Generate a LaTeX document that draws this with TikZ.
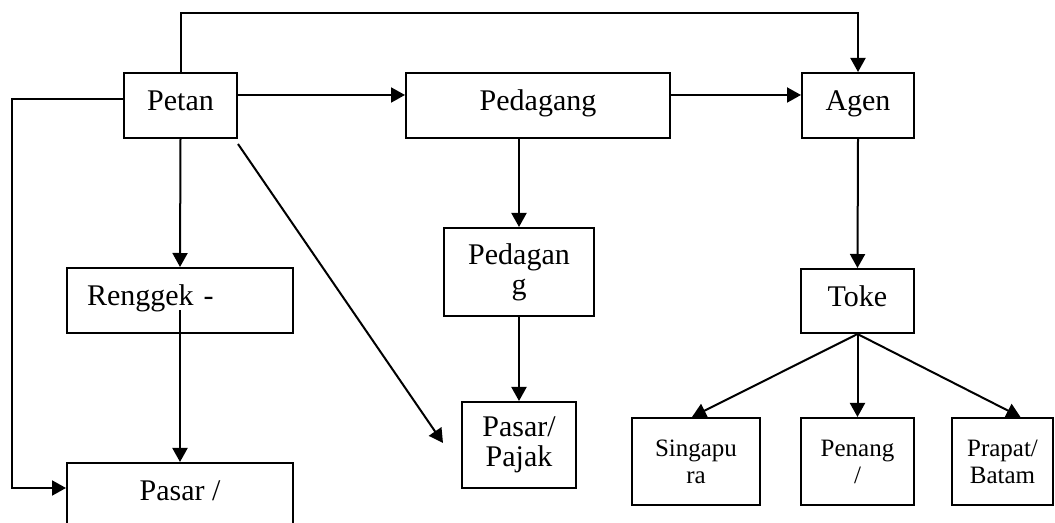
\documentclass[tikz,border=0pt]{standalone}
\usepackage{fontspec}
\setmainfont{Liberation Serif}
\usetikzlibrary{arrows.meta,calc,positioning}

\begin{document}
\begin{tikzpicture}[x=0.5pt,y=-0.5pt,
  box/.style={draw, line width=1pt, inner sep=0pt, align=center,
    font=\fontsize{15}{15}\selectfont},
  onebox/.style={box, anchor=north, text height=19pt, text depth=13.5pt},
  smallbox/.style={box, minimum height=43.5pt, font=\fontsize{12.5}{13.5}\selectfont},
  arr/.style={line width=1pt, -{Triangle[length=7pt,width=7.5pt]}}]
\useasboundingbox (0,0) rectangle (1055,523);
\clip (0,0) rectangle (1055,523);

% Top row
\node[onebox, minimum width=56.5pt] (petani) at (180.5,72) {Petan};
\node[onebox, minimum width=132pt] (pengumpul) at (538,72) {Pedagang};
\node[onebox, minimum width=56pt] (agen) at (858,72) {Agen};

% Left column
\node[onebox, minimum width=113pt, text width=93pt, align=left] (renggek) at (180,267) {Renggek -};
\node[box, anchor=north, minimum width=113pt, text height=19pt, text depth=20pt] (kota) at (180,462) {Pasar /};

% Middle column
\node[box, minimum width=75pt, minimum height=44pt] (pedagang) at (519,272) {Pedagan\\g};
\node[box, minimum width=57pt, minimum height=43pt] (pajak) at (519,445) {Pasar/\\Pajak};

% Right column
\node[onebox, minimum width=56.5pt, text depth=13pt] (toke) at (857.5,268) {Toke};
\node[smallbox, minimum width=64pt] (singapura) at (696,461.5) {Singapu\\ra};
\node[smallbox, minimum width=56.5pt] (penang) at (857.5,461.5) {Penang\\/};
\node[smallbox, minimum width=50.5pt] (prapat) at (1002.5,461.5) {Prapat/\\Batam};

% Helper coordinates
\coordinate (top) at (520,13);
\coordinate (rowa) at (0,95);
\coordinate (rowb) at (0,99);
\coordinate (rowc) at (0,488);
\coordinate (side) at (12,0);
\coordinate (jalan) at (443,443);

% Connectors
\draw[arr] (petani.north) |- (top) -| (agen.north);
\draw[arr] (petani.west |- rowb) -- (side |- rowb) |- (kota.west |- rowc);
\draw[arr] (petani.east |- rowa) -- (pengumpul.west |- rowa);
\draw[arr] (pengumpul.east |- rowa) -- (agen.west |- rowa);
\draw[arr] (petani.south) -- (renggek.north);
\draw[arr] ($(renggek.north)+(0,43)$) -- (kota.north);
\draw[arr] ($(petani.south east)+(0,5)$) -- (jalan);
\draw[arr] (pedagang.north |- pengumpul.south) -- (pedagang.north);
\draw[arr] (pedagang.south) -- (pajak.north);
\draw[arr] (agen.south) -- (toke.north);
\draw[arr] (toke.south) -- ($(singapura.north)+(-4,0)$);
\draw[arr] (toke.south) -- (penang.north);
\draw[arr] (toke.south) -- ($(prapat.north)+(18,0)$);
\end{tikzpicture}
\end{document}
